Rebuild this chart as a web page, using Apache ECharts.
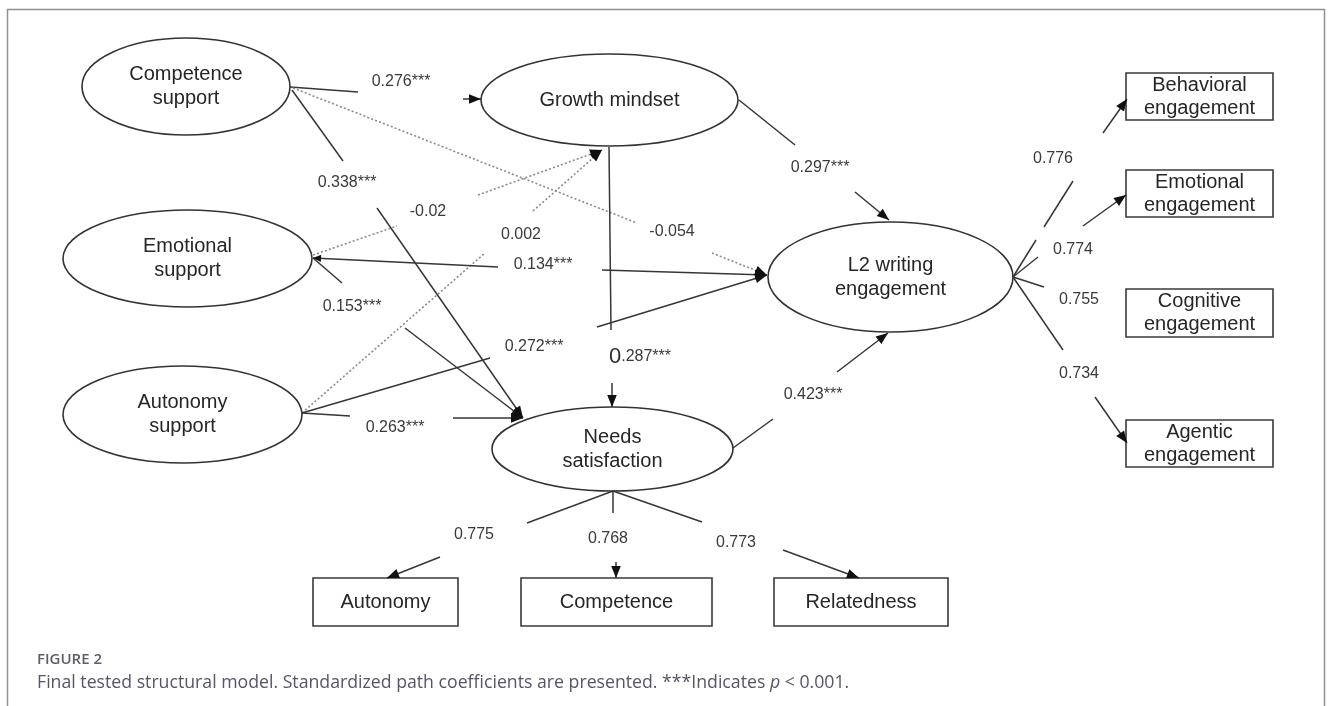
<!DOCTYPE html>
<html>
<head>
<meta charset="utf-8">
<script src="https://cdn.jsdelivr.net/npm/echarts@6/dist/echarts.min.js"></script>
<style>
html,body{margin:0;padding:0;background:#ffffff;}
#chart{width:1331px;height:706px;}
</style>
</head>
<body>
<div id="chart"></div>
<script>
// ================= DATA =================
const latentFactors = ['Competence\nsupport', 'Emotional\nsupport', 'Autonomy\nsupport', 'Growth mindset', 'Needs\nsatisfaction', 'L2 writing\nengagement'];
const indicatorNames = ['Behavioral\nengagement', 'Emotional\nengagement', 'Cognitive\nengagement', 'Agentic\nengagement', 'Autonomy', 'Competence', 'Relatedness'];

const structuralFrom = ['Competence support', 'Competence support', 'Competence support', 'Emotional support', 'Autonomy support', 'Emotional support', 'Emotional support', 'Autonomy support', 'Autonomy support', 'Growth mindset', 'Growth mindset', 'Needs satisfaction'];
const structuralTo = ['Growth mindset', 'Needs satisfaction', 'L2 writing engagement', 'Growth mindset', 'Growth mindset', 'L2 writing engagement', 'Needs satisfaction', 'L2 writing engagement', 'Needs satisfaction', 'Needs satisfaction', 'L2 writing engagement', 'L2 writing engagement'];
const structuralCoefficients = ['0.276', '0.338', '-0.054', '-0.02', '0.002', '0.134', '0.153', '0.272', '0.263', '0.287', '0.297', '0.423'];
const structuralSignificance = ['***', '***', '', '', '', '***', '***', '***', '***', '***', '***', '***'];

const loadingFactor = ['L2 writing engagement', 'L2 writing engagement', 'L2 writing engagement', 'L2 writing engagement', 'Needs satisfaction', 'Needs satisfaction', 'Needs satisfaction'];
const loadingIndicator = ['Behavioral engagement', 'Emotional engagement', 'Cognitive engagement', 'Agentic engagement', 'Autonomy', 'Competence', 'Relatedness'];
const loadingValues = ['0.776', '0.774', '0.755', '0.734', '0.775', '0.768', '0.773'];

const captionLabel = 'FIGURE 2';
const captionText = 'Final tested structural model. Standardized path coefficients are presented. ***Indicates {i|p} < 0.001.';

// ================= LAYOUT (diagram space, same units as the hidden axes) =================
// [centerX, centerY, width, height]
const latentLayout = [
  [186, 86.5, 208, 97],
  [187.5, 258.5, 249, 97],
  [182.5, 414.5, 239, 97],
  [609.5, 100, 257, 92],
  [612.5, 449, 241, 84],
  [890.5, 277, 245, 110]
];
const indicatorLayout = [
  [1199.5, 96.5, 147, 47],
  [1199.5, 193.5, 147, 47],
  [1199.5, 313, 147, 48],
  [1199.5, 443.5, 147, 47],
  [385.5, 602, 145, 48],
  [616.5, 602, 191, 48],
  [861, 602, 174, 48]
];
// route: first segment(s) from the source, label anchor, last segment ending with an arrow at the target
const structuralRoute = [
  {a: [[290, 87, 358, 92]],   l: [401, 82],  b: [463, 99, 481, 99]},
  {a: [[292, 90, 343, 161]],  l: [347, 183], b: [377, 208, 523, 418]},
  {a: [[293, 88, 637, 223]],  l: [672, 232], b: [712, 253, 767, 275]},
  {a: [[313, 255, 397, 226]], l: [428, 212], b: [478, 195, 602, 150]},
  {a: [[302, 413, 485, 253]], l: [521, 235], b: [533, 211, 602, 150]},
  {a: [[313, 258, 498, 267]], l: [543, 265], b: [602, 270, 767, 275], back: true},
  {a: [[313, 258, 342, 283]], l: [352, 307], b: [405, 328, 523, 418]},
  {a: [[302, 413, 490, 358]], l: [534, 347], b: [597, 327, 767, 275]},
  {a: [[302, 413, 350, 416]], l: [395, 428], b: [453, 418, 523, 418]},
  {a: [[609, 147, 611, 330]], l: [640, 357], b: [612, 383, 612, 407], bigZero: true},
  {a: [[739, 100, 795, 145]], l: [820, 168], b: [855, 192, 889, 220]},
  {a: [[733, 448, 773, 419]], l: [813, 395], b: [837, 372, 888, 333]}
];
const loadingRoute = [
  {a: [[1013, 277, 1036, 240], [1044, 227, 1073, 181]], l: [1053, 159], b: [1103, 133, 1127, 99]},
  {a: [[1013, 277, 1038, 257]], l: [1073, 250], b: [1083, 226, 1126, 195]},
  {a: [[1013, 277, 1044, 287]], l: [1079, 300], b: null},
  {a: [[1013, 277, 1063, 350]], l: [1079, 374], b: [1095, 397, 1127, 443]},
  {a: [[613, 491, 527, 523]],   l: [474, 535],  b: [440, 557, 387, 578]},
  {a: [[613, 491, 613, 513]],   l: [608, 539],  b: [616, 562, 616, 578]},
  {a: [[613, 491, 702, 522]],   l: [736, 543],  b: [783, 550, 859, 578]}
];

// ================= STYLE =================
const FONT = '"Liberation Sans", Arial, Helvetica, sans-serif';
const CAPFONT = '"Open Sans", "Noto Sans", sans-serif';
const LINE = '#363636';
const DOT = '#8a8a8a';
const ARROW = '#111111';

function arrowHead(api, from, to, len, half) {
  const p0 = api.coord(from), p1 = api.coord(to);
  const dx = p1[0] - p0[0], dy = p1[1] - p0[1];
  const d = Math.sqrt(dx * dx + dy * dy) || 1;
  const ux = dx / d, uy = dy / d;
  const bx = p1[0] - ux * len, by = p1[1] - uy * len;
  return {
    type: 'polygon',
    shape: {points: [[p1[0], p1[1]], [bx - uy * half, by + ux * half], [bx + uy * half, by - ux * half]]},
    style: {fill: ARROW}
  };
}

function seg(api, s, dotted) {
  const p = api.coord([s[0], s[1]]), q = api.coord([s[2], s[3]]);
  return {
    type: 'line',
    shape: {x1: p[0], y1: p[1], x2: q[0], y2: q[1]},
    style: dotted
      ? {stroke: DOT, lineWidth: 1.6, lineDash: [2, 2.2]}
      : {stroke: LINE, lineWidth: 1.5}
  };
}

function routeGroup(api, r, labelStyle, dotted) {
  const children = r.a.map(s => seg(api, s, dotted));
  if (r.b) {
    children.push(seg(api, r.b, dotted));
    children.push(arrowHead(api, [r.b[0], r.b[1]], [r.b[2], r.b[3]], 12, 4.8));
  }
  if (r.back) {
    const s0 = r.a[0];
    children.push(arrowHead(api, [s0[0] + 12, s0[1] + 0.6], [s0[0], s0[1]], 8, 3.6));
  }
  const lp = api.coord(r.l);
  children.push({type: 'text', x: lp[0], y: lp[1], style: labelStyle});
  return {type: 'group', children: children};
}

const option = {
  animation: false,
  backgroundColor: '#ffffff',
  grid: {left: 0, right: 0, top: 0, bottom: 0},
  xAxis: {type: 'value', min: 0, max: 1331, show: false},
  yAxis: {type: 'value', min: 0, max: 706, inverse: true, show: false},
  title: {
    text: captionLabel,
    subtext: captionText,
    left: 37,
    top: 651,
    itemGap: 3,
    padding: 0,
    textStyle: {fontFamily: CAPFONT, fontSize: 15, fontWeight: 600, color: '#5d5d6b', lineHeight: 18},
    subtextStyle: {
      fontFamily: CAPFONT, fontSize: 17.7, color: '#555568', lineHeight: 22,
      rich: {i: {fontFamily: CAPFONT, fontSize: 17.7, fontStyle: 'italic', color: '#555568'}}
    }
  },
  graphic: [{
    type: 'polyline',
    silent: true,
    shape: {points: [[7.5, 706], [7.5, 9.5], [1324.5, 9.5], [1324.5, 706]]},
    style: {stroke: '#8e8e96', lineWidth: 1.5, fill: null}
  }],
  series: [
    {
      name: 'Structural paths',
      type: 'custom',
      coordinateSystem: 'cartesian2d',
      clip: false,
      z: 2,
      data: structuralCoefficients.map((c, i) => [structuralRoute[i].l[0], structuralRoute[i].l[1]]),
      renderItem: function (params, api) {
        const i = params.dataIndex;
        const r = structuralRoute[i];
        const sig = structuralSignificance[i];
        const coef = structuralCoefficients[i];
        let style;
        if (r.bigZero) {
          style = {
            text: '{z|' + coef.charAt(0) + '}{n|' + coef.slice(1) + sig + '}',
            align: 'center', verticalAlign: 'middle',
            rich: {
              z: {fontFamily: FONT, fontSize: 22, fill: '#2e2e2e'},
              n: {fontFamily: FONT, fontSize: 16, fill: '#3a3a3a'}
            }
          };
        } else {
          style = {text: coef + sig, fontFamily: FONT, fontSize: 16, fill: '#3a3a3a', align: 'center', verticalAlign: 'middle'};
        }
        return routeGroup(api, r, style, sig === '');
      }
    },
    {
      name: 'Factor loadings',
      type: 'custom',
      coordinateSystem: 'cartesian2d',
      clip: false,
      z: 2,
      data: loadingValues.map((v, i) => [loadingRoute[i].l[0], loadingRoute[i].l[1]]),
      renderItem: function (params, api) {
        const i = params.dataIndex;
        const style = {text: loadingValues[i], fontFamily: FONT, fontSize: 16, fill: '#3a3a3a', align: 'center', verticalAlign: 'middle'};
        return routeGroup(api, loadingRoute[i], style, false);
      }
    },
    {
      name: 'Latent factors',
      type: 'custom',
      coordinateSystem: 'cartesian2d',
      clip: false,
      z: 1,
      data: latentLayout.map(l => [l[0], l[1]]),
      renderItem: function (params, api) {
        const i = params.dataIndex;
        const c = api.coord([api.value(0), api.value(1)]);
        const s = api.size([latentLayout[i][2], latentLayout[i][3]]);
        return {
          type: 'group',
          children: [
            {type: 'ellipse', shape: {cx: c[0], cy: c[1], rx: s[0] / 2, ry: s[1] / 2}, style: {fill: '#ffffff', stroke: '#333333', lineWidth: 1.6}},
            {type: 'text', x: c[0], y: c[1], style: {text: latentFactors[i], fontFamily: FONT, fontSize: 20, lineHeight: 24, fill: '#262626', align: 'center', verticalAlign: 'middle'}}
          ]
        };
      }
    },
    {
      name: 'Indicators',
      type: 'custom',
      coordinateSystem: 'cartesian2d',
      clip: false,
      z: 1,
      data: indicatorLayout.map(l => [l[0], l[1]]),
      renderItem: function (params, api) {
        const i = params.dataIndex;
        const c = api.coord([api.value(0), api.value(1)]);
        const s = api.size([indicatorLayout[i][2], indicatorLayout[i][3]]);
        return {
          type: 'group',
          children: [
            {type: 'rect', shape: {x: c[0] - s[0] / 2, y: c[1] - s[1] / 2, width: s[0], height: s[1]}, style: {fill: '#ffffff', stroke: '#3a3a3a', lineWidth: 1.6}},
            {type: 'text', x: c[0], y: c[1], style: {text: indicatorNames[i], fontFamily: FONT, fontSize: 20, lineHeight: 23, fill: '#262626', align: 'center', verticalAlign: 'middle'}}
          ]
        };
      }
    }
  ]
};

const chart = echarts.init(document.getElementById('chart'));
chart.setOption(option);
</script>
</body>
</html>
